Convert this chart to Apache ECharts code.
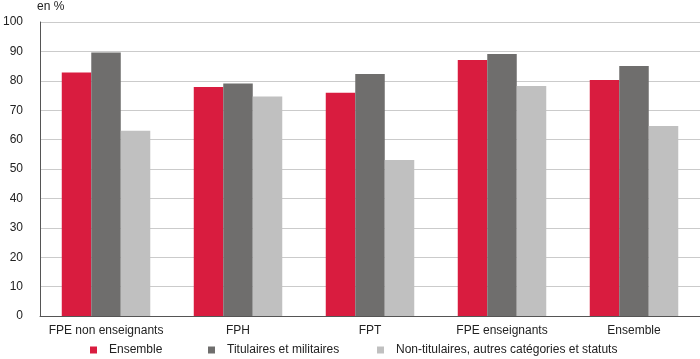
<!DOCTYPE html>
<html><head><meta charset="utf-8">
<script src="https://cdn.jsdelivr.net/npm/echarts@6/dist/echarts.min.js"></script>
<style>html,body{margin:0;padding:0;background:#fff}#c{width:700px;height:359px}</style>
</head><body><div id="c"></div>
<script>
var categories = ["FPE non enseignants", "FPH", "FPT", "FPE enseignants", "Ensemble"];
var seriesNames = ["Ensemble", "Titulaires et militaires", "Non-titulaires, autres catégories et statuts"];
var ensemble = [82.8, 77.9, 75.9, 87.1, 80.3];
var titulaires = [89.6, 79.1, 82.3, 89.1, 85.0];
var nonTitulaires = [63.0, 74.7, 53.1, 78.2, 64.6];
var yTicks = [0, 10, 20, 30, 40, 50, 60, 70, 80, 90, 100];
var colors = ["#D91C3F", "#6F6E6D", "#C0C0C0"];

var chart = echarts.init(document.getElementById('c'), null, {renderer: 'canvas'});
var font = "'Liberation Sans', Arial, sans-serif";
var vals = [ensemble, titulaires, nonTitulaires];
var legendLefts = [90, 208, 377];
chart.setOption({
  animation: false,
  textStyle: {fontFamily: font},
  graphic: [{type: 'text', left: 37, top: 1, style: {text: 'en %', font: "12px " + font, fill: '#222'}}],
  grid: {left: 37, right: 0, top: 22, bottom: 43, containLabel: false},
  legend: seriesNames.map(function (n, i) {
    return {
      top: 344, left: legendLefts[i], itemWidth: 7, itemHeight: 7, icon: 'rect', padding: 0,
      textStyle: {fontSize: 12, color: '#222', fontFamily: font, padding: [0, 0, 0, 7]},
      data: [n]
    };
  }),
  xAxis: {
    type: 'category', data: categories,
    axisLine: {lineStyle: {color: '#555', width: 1}},
    axisTick: {show: false},
    axisLabel: {fontSize: 12, color: '#222', margin: 9, fontFamily: font, interval: 0},
    splitLine: {show: false}
  },
  yAxis: {
    type: 'value', min: yTicks[0], max: yTicks[yTicks.length - 1], interval: 10,
    axisLine: {show: true, lineStyle: {color: '#555', width: 1}},
    axisTick: {show: false},
    axisLabel: {fontSize: 12, color: '#222', margin: 17, fontFamily: font},
    splitLine: {lineStyle: {color: '#CBCBCB', width: 1.2}}
  },
  series: seriesNames.map(function (n, i) {
    return {name: n, type: 'bar', data: vals[i], barWidth: 29.5, barGap: '0%',
      itemStyle: {color: colors[i]}};
  })
});
</script></body></html>
